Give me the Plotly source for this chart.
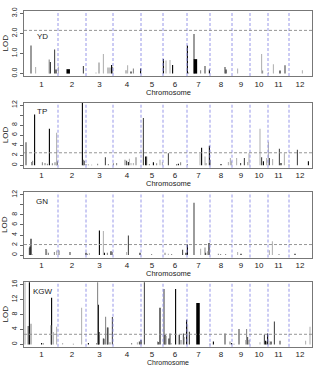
import plotly.graph_objects as go

# ---------------- data ----------------
chrom_labels = [str(i) for i in range(1, 13)]
chrom_len = [165, 140, 135, 140, 110, 120, 115, 110, 90, 90, 105, 110]  # cM

traits = ["YD", "TP", "GN", "KGW"]
thresholds = [2.15, 2.5, 2.1, 2.7]
y_max = [3.0, 12.0, 12.0, 16.0]

# shade: 0 black, 1 dark grey, 2 grey, 3 light grey ; pos = genome-wide cM
yd_pos = [30, 53, 121, 126, 148, 155, 167, 292, 355, 370, 392, 415, 425, 433, 438, 505, 513, 530, 542, 578,
          692, 705, 725, 738, 812, 818, 845, 878, 900, 922, 1000, 1005, 1063, 1183, 1188, 1217, 1242, 1275, 1300, 1387]
yd_lod = [1.40, 0.33, 0.70, 0.58, 1.20, 0.20, 0.35, 0.38, 0.05, 0.55, 0.97, 0.30, 0.30, 0.43, 0.33, 0.17, 0.42, 0.10, 0.25, 0.25,
          0.72, 0.65, 0.68, 0.43, 1.40, 0.05, 1.97, 0.17, 0.38, 0.20, 0.33, 0.20, 0.25, 0.97, 0.15, 0.05, 0.47, 0.15, 0.42, 0.17]
yd_shade = [1, 3, 2, 0, 1, 0, 3, 1, 3, 2, 3, 2, 2, 0, 2, 2, 3, 0, 2, 0,
            0, 3, 3, 0, 0, 2, 1, 2, 1, 0, 1, 0, 3, 3, 2, 2, 3, 0, 1, 3]
yd_thick_pos = [216, 852]
yd_thick_lod = [0.22, 0.72]

tp_pos = [5, 33, 38, 48, 87, 100, 112, 122, 137, 150, 158, 160, 287, 292, 295, 305, 317, 333, 363, 402, 417, 442, 458,
          500, 508, 517, 522, 530, 542, 555, 592, 603, 608, 622, 642, 658, 675, 687, 717, 758, 767, 778, 812,
          875, 883, 900, 905, 922, 925, 980, 1017, 1027, 1033, 1058, 1078, 1097, 1113, 1120, 1175, 1183, 1192,
          1208, 1217, 1222, 1238, 1272, 1280, 1297, 1320, 1362, 1417]
tp_lod = [4.6, 0.65, 0.9, 10.1, 0.6, 0.45, 0.3, 7.3, 0.4, 0.6, 6.5, 0.8, 13.0, 1.1, 0.9, 0.25, 0.15, 0.1, 0.3, 1.6, 0.25, 0.4, 0.45,
          1.1, 0.9, 0.65, 1.3, 0.45, 0.45, 1.6, 9.4, 1.75, 1.75, 0.25, 0.6, 0.4, 1.1, 0.65, 2.4, 0.15, 0.3, 0.6, 0.25,
          2.4, 3.5, 1.75, 0.45, 3.9, 1.1, 0.25, 0.65, 1.45, 0.8, 1.45, 0.45, 1.45, 0.65, 2.4, 7.3, 1.6, 0.8,
          1.45, 4.7, 1.45, 1.25, 3.3, 0.45, 2.4, 0.15, 3.1, 0.8]
tp_shade = [1, 2, 2, 0, 2, 2, 2, 0, 2, 2, 3, 0, 0, 2, 0, 2, 2, 2, 2, 1, 2, 2, 2,
            2, 1, 0, 3, 3, 3, 2, 1, 0, 1, 2, 0, 2, 3, 3, 1, 0, 0, 2, 2,
            3, 0, 3, 2, 0, 1, 0, 3, 3, 3, 3, 1, 1, 3, 3, 3, 1, 0,
            3, 3, 1, 3, 1, 0, 3, 2, 1, 0]

gn_pos = [22, 25, 30, 35, 105, 108, 117, 147, 158, 167, 172, 225, 305, 312, 322, 372, 392, 397, 412, 430, 437,
          508, 517, 575, 633, 700, 717, 733, 788, 805, 812, 845, 878, 900, 903, 913, 920, 967, 978, 1003,
          1063, 1080, 1222, 1237, 1270, 1350]
gn_lod = [1.4, 1.7, 3.25, 0.2, 1.2, 0.95, 0.45, 0.6, 0.9, 1.0, 0.9, 0.6, 0.45, 0.25, 0.4, 4.9, 4.8, 0.45, 0.45, 0.75, 0.6,
          0.6, 3.9, 0.45, 0.2, 0.45, 0.25, 0.2, 1.05, 0.45, 2.1, 10.4, 1.25, 1.5, 0.45, 0.75, 2.4, 0.25, 0.2, 0.2,
          0.6, 0.25, 0.95, 2.75, 0.2, 0.25]
gn_shade = [1, 0, 0, 2, 1, 2, 2, 2, 3, 3, 3, 1, 0, 2, 3, 0, 3, 0, 2, 0, 2,
            3, 1, 0, 2, 2, 3, 2, 1, 0, 0, 1, 3, 2, 0, 3, 0, 2, 2, 2,
            3, 0, 3, 3, 2, 0]

kgw_pos = [0, 16, 22, 30, 83, 92, 131, 133, 142, 158, 188, 242, 283, 317, 358, 363, 367, 370, 392, 395, 403, 412, 415,
           425, 437, 533, 562, 572, 580, 597, 663, 667, 675, 695, 700, 705, 720, 725, 730, 753, 767, 772, 780, 792,
           797, 808, 813, 822, 925, 942, 1000, 1025, 1033, 1045, 1070, 1103, 1108, 1113, 1120, 1175, 1197, 1203,
           1208, 1213, 1220, 1225, 1230, 1247, 1275, 1403, 1425]
kgw_lod = [17.0, 4.9, 17.0, 5.5, 0.4, 0.3, 5.1, 12.5, 3.3, 4.7, 0.4, 0.2, 9.8, 0.4, 0.4, 17.0, 10.6, 3.3, 1.6, 1.5, 7.4, 4.5, 4.5,
           0.55, 7.3, 0.4, 0.55, 0.8, 1.2, 17.0, 0.8, 0.65, 9.8, 14.8, 2.5, 2.3, 1.6, 2.9, 0.4, 14.8, 2.6, 2.5, 1.2, 2.9,
           2.0, 6.6, 5.3, 3.4, 0.25, 0.8, 2.9, 0.8, 0.4, 0.2, 4.1, 1.2, 4.1, 2.0, 1.2, 0.6, 2.6, 1.0,
           0.8, 2.9, 1.0, 0.3, 0.8, 6.1, 1.0, 1.0, 4.7]
kgw_shade = [3, 1, 0, 2, 0, 2, 1, 0, 3, 3, 3, 2, 3, 0, 2, 2, 0, 0, 1, 1, 2, 1, 1,
             2, 1, 2, 3, 1, 0, 1, 2, 1, 0, 1, 0, 2, 0, 1, 2, 0, 3, 1, 2, 1,
             3, 0, 3, 1, 2, 0, 1, 2, 0, 2, 1, 3, 2, 1, 2, 3, 1, 0,
             2, 0, 3, 2, 0, 1, 1, 3, 3]
kgw_thick_pos = [865]
kgw_thick_lod = [11.1]

panel_pos = [yd_pos, tp_pos, gn_pos, kgw_pos]
panel_lod = [yd_lod, tp_lod, gn_lod, kgw_lod]
panel_shade = [yd_shade, tp_shade, gn_shade, kgw_shade]
panel_thick = [(yd_thick_pos, yd_thick_lod), ([], []), ([], []), (kgw_thick_pos, kgw_thick_lod)]

# ---------------- layout helpers ----------------
W, H = 315, 368
shade_colors = ["#000000", "#4a4a4a", "#8a8a8a", "#b4b4b4"]
box_px = [(7, 73), (100, 166), (191, 257), (282, 347.5)]   # top, bottom of each box (px)
xlab_px = [90, 182, 273, 363.5]
x_left_px, x_right_px = 24, 312

starts = []
acc = 0
for L in chrom_len:
    starts.append(acc)
    acc += L
centers = [s + L / 2 for s, L in zip(starts, chrom_len)]
bounds = starts[1:]

# pixel 25 -> 0 cM, 5 cM per px
x_range = [-(25 - x_left_px) * 5, (x_right_px - 25) * 5]

font = "Liberation Sans, Arial, sans-serif"
fig = go.Figure()
shapes, annotations = [], []
layout = {}

for i, name in enumerate(traits):
    n = i + 1
    xa = "x" if n == 1 else f"x{n}"
    ya = "y" if n == 1 else f"y{n}"
    top, bot = box_px[i]
    ym = y_max[i]
    yr = [-0.04 * ym, 1.04 * ym]

    for s, col in enumerate(shade_colors):
        xs, ys = [], []
        for p, v, sh in zip(panel_pos[i], panel_lod[i], panel_shade[i]):
            if sh == s:
                xs += [p, p, None]
                ys += [0, v, None]
        if xs:
            fig.add_trace(go.Scatter(x=xs, y=ys, mode="lines", line=dict(color=col, width=1.1),
                                     xaxis=xa, yaxis=ya, showlegend=False, hoverinfo="skip"))
    tp_, tl_ = panel_thick[i]
    if tp_:
        xs, ys = [], []
        for p, v in zip(tp_, tl_):
            xs += [p, p, None]
            ys += [0, v, None]
        fig.add_trace(go.Scatter(x=xs, y=ys, mode="lines", line=dict(color="#000000", width=3.5),
                                 xaxis=xa, yaxis=ya, showlegend=False, hoverinfo="skip"))

    if ym == 3.0:
        tv = [0, 1, 2, 3]
        tt = ["0.0", "1.0", "2.0", "3.0"]
    elif ym == 12.0:
        tv = [0, 2, 4, 6, 8, 10, 12]
        tt = ["0", "2", "4", "6", "8", "", "12"]
    else:
        tv = [0, 4, 8, 12, 16]
        tt = ["0", "4", "8", "12", "16"]

    layout["xaxis" + ("" if n == 1 else str(n))] = dict(
        domain=[x_left_px / W, x_right_px / W], anchor=ya, range=x_range,
        tickvals=centers, ticktext=chrom_labels, ticks="", ticklabelstandoff=0,
        showline=True, mirror=True, linecolor="#777", linewidth=1,
        showgrid=False, zeroline=False, tickfont=dict(size=8, color="#222", family=font))
    layout["yaxis" + ("" if n == 1 else str(n))] = dict(
        domain=[1 - bot / H, 1 - top / H], anchor=xa, range=yr,
        tickvals=tv, ticktext=tt, ticks="outside", ticklen=3, tickcolor="#666", tickangle=-90,
        showline=True, mirror=True, linecolor="#777", linewidth=1,
        showgrid=False, zeroline=False, tickfont=dict(size=7, color="#222", family=font))

    for b in bounds:
        shapes.append(dict(type="line", xref=xa, yref=ya + " domain", x0=b, x1=b, y0=0, y1=1,
                           line=dict(color="#8c8ce6", width=0.9, dash="3px,2px")))
    shapes.append(dict(type="line", xref=xa + " domain", yref=ya, x0=0, x1=1,
                       y0=thresholds[i], y1=thresholds[i],
                       line=dict(color="#8a8a8a", width=0.9, dash="3px,2px")))

    annotations.append(dict(text=name, xref="paper", yref="paper", x=(42 if name != "KGW" else 43) / W,
                            y=1 - (top + 26 if name == "YD" else top + 9) / H,
                            showarrow=False, xanchor="center", yanchor="middle",
                            font=dict(size=8, color="#222", family=font)))
    annotations.append(dict(text="Chromosome", xref="paper", yref="paper", x=168 / W, y=1 - xlab_px[i] / H,
                            showarrow=False, xanchor="center", yanchor="middle", borderpad=0,
                            font=dict(size=7 if name == "KGW" else 7.5, color="#222", family=font)))
    annotations.append(dict(text="LOD", xref="paper", yref="paper", x=5 / W, y=1 - (top + bot) / 2 / H,
                            showarrow=False, xanchor="center", yanchor="middle", textangle=-90,
                            font=dict(size=8, color="#222", family=font)))

fig.update_layout(width=W, height=H, margin=dict(l=0, r=0, t=0, b=0),
                  paper_bgcolor="white", plot_bgcolor="white",
                  shapes=shapes, annotations=annotations, **layout)

fig.write_html("out.html")
